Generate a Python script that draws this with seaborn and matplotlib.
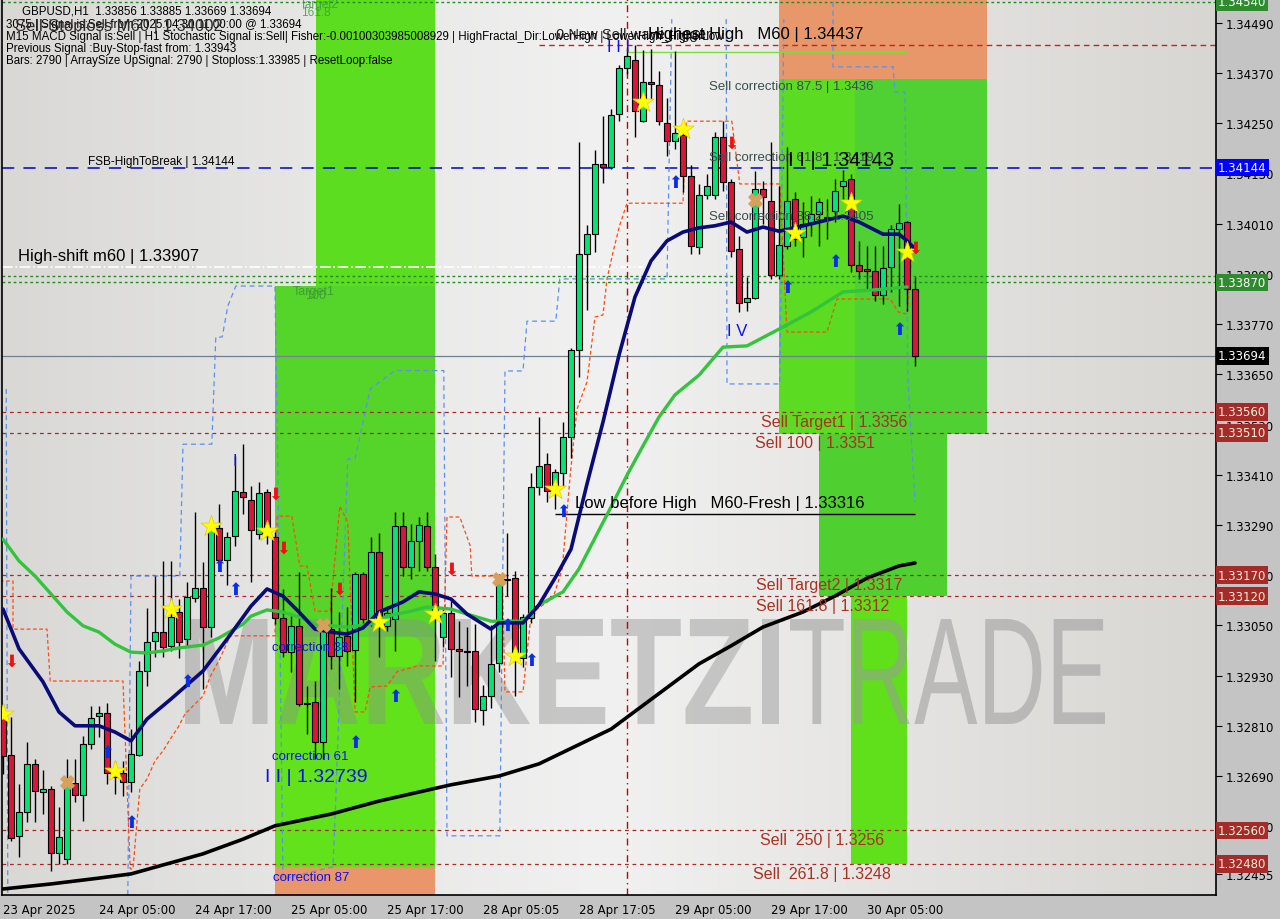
import numpy as np
import matplotlib
matplotlib.use("Agg")
import matplotlib.pyplot as plt
import matplotlib.transforms as mtransforms
from matplotlib.colors import LinearSegmentedColormap
from matplotlib.patches import Rectangle, PathPatch
from matplotlib.textpath import TextPath
from matplotlib.font_manager import FontProperties
import seaborn as sns

# ---------------- data (GBPUSD H1) ----------------
opens = [1.32845, 1.32740, 1.32547, 1.32604, 1.32719, 1.32652, 1.32659, 1.32506, 1.32492, 1.32673,
         1.32645, 1.32766, 1.32833, 1.32841, 1.32707, 1.32697, 1.32676, 1.32740, 1.32941, 1.33013,
         1.33034, 1.33001, 1.33082, 1.33017, 1.33115, 1.33139, 1.33046, 1.33283, 1.33206, 1.33264,
         1.33369, 1.33350, 1.33268, 1.33369, 1.33261, 1.33068, 1.32986, 1.33049, 1.32864, 1.32867,
         1.32771, 1.33041, 1.32977, 1.33025, 1.32991, 1.33173, 1.33060, 1.33225, 1.33049, 1.33065,
         1.33288, 1.33190, 1.33252, 1.33288, 1.33190, 1.33022, 1.33080, 1.32994, 1.32989, 1.32989,
         1.32848, 1.32881, 1.32960, 1.33161, 1.33163, 1.32972, 1.33068, 1.33381, 1.33436, 1.33376,
         1.33414, 1.33500, 1.33708, 1.33938, 1.33985, 1.34153, 1.34146, 1.34272, 1.34382, 1.34401,
         1.34255, 1.34349, 1.34342, 1.34251, 1.34208, 1.34222, 1.34124, 1.33954, 1.34079, 1.34079,
         1.34217, 1.34110, 1.33950, 1.33823, 1.33832, 1.34093, 1.34064, 1.33887, 1.33957, 1.34069,
         1.33978, 1.34012, 1.34033, 1.34026, 1.34040, 1.34100, 1.34117, 1.33911, 1.33902, 1.33897,
         1.33840, 1.33907, 1.33997, 1.34014, 1.33854]
highs = [1.32862, 1.32831, 1.32671, 1.32771, 1.32731, 1.32704, 1.32666, 1.32616, 1.32731, 1.32731,
         1.32786, 1.32857, 1.32857, 1.32864, 1.32726, 1.32726, 1.32802, 1.32965, 1.33092, 1.33168,
         1.33204, 1.33204, 1.33113, 1.33154, 1.33321, 1.33201, 1.33304, 1.33340, 1.33273, 1.33455,
         1.33483, 1.33383, 1.33393, 1.33376, 1.33273, 1.33137, 1.33072, 1.33178, 1.32905, 1.32917,
         1.33060, 1.33139, 1.33082, 1.33094, 1.33178, 1.33178, 1.33261, 1.33271, 1.33096, 1.33321,
         1.33321, 1.33292, 1.33309, 1.33321, 1.33221, 1.33089, 1.33108, 1.33060, 1.33046, 1.33053,
         1.32908, 1.33051, 1.33173, 1.33271, 1.33180, 1.33077, 1.33414, 1.33548, 1.33462, 1.33424,
         1.33536, 1.33713, 1.34205, 1.34007, 1.34186, 1.34267, 1.34284, 1.34389, 1.34432, 1.34437,
         1.34425, 1.34428, 1.34375, 1.34310, 1.34423, 1.34236, 1.34150, 1.34105, 1.34129, 1.34229,
         1.34255, 1.34117, 1.33981, 1.33883, 1.34136, 1.34112, 1.34205, 1.34100, 1.34193, 1.34086,
         1.34062, 1.34076, 1.34071, 1.34069, 1.34117, 1.34138, 1.34129, 1.33969, 1.33957, 1.33957,
         1.33957, 1.34007, 1.34057, 1.34016, 1.33883]
lows = [1.32695, 1.32535, 1.32496, 1.32580, 1.32580, 1.32599, 1.32463, 1.32480, 1.32480, 1.32628,
        1.32582, 1.32755, 1.32783, 1.32671, 1.32647, 1.32642, 1.32652, 1.32738, 1.32905, 1.32974,
        1.32974, 1.32989, 1.32972, 1.33001, 1.33106, 1.32898, 1.33022, 1.33192, 1.33147, 1.33240,
        1.33316, 1.33154, 1.33256, 1.33244, 1.33053, 1.32974, 1.32939, 1.32857, 1.32790, 1.32731,
        1.32731, 1.32946, 1.32898, 1.32953, 1.32867, 1.33053, 1.33049, 1.32974, 1.33036, 1.32989,
        1.33168, 1.33161, 1.33180, 1.33180, 1.32965, 1.32998, 1.32927, 1.32879, 1.32905, 1.32819,
        1.32812, 1.32853, 1.32939, 1.33120, 1.32881, 1.32951, 1.33056, 1.33362, 1.33345, 1.33328,
        1.33381, 1.33450, 1.33644, 1.33804, 1.33942, 1.34107, 1.34141, 1.34255, 1.34368, 1.34217,
        1.34253, 1.34306, 1.34246, 1.34172, 1.34189, 1.34086, 1.33938, 1.33938, 1.34069, 1.34069,
        1.34088, 1.33930, 1.33799, 1.33801, 1.33830, 1.34009, 1.33878, 1.33878, 1.33950, 1.33957,
        1.33930, 1.33981, 1.33957, 1.33973, 1.34014, 1.34069, 1.33895, 1.33878, 1.33854, 1.33825,
        1.33818, 1.33847, 1.33813, 1.33801, 1.33669]
closes = [1.32738, 1.32542, 1.32604, 1.32719, 1.32654, 1.32659, 1.32506, 1.32544, 1.32676, 1.32645,
          1.32766, 1.32829, 1.32841, 1.32697, 1.32688, 1.32676, 1.32743, 1.32941, 1.33010, 1.33034,
          1.32998, 1.33070, 1.33010, 1.33118, 1.33139, 1.33046, 1.33280, 1.33206, 1.33261, 1.33371,
          1.33357, 1.33278, 1.33366, 1.33264, 1.33068, 1.32986, 1.33049, 1.32862, 1.32862, 1.32771,
          1.33041, 1.32977, 1.33022, 1.32989, 1.33173, 1.33065, 1.33225, 1.33049, 1.33080, 1.33288,
          1.33190, 1.33252, 1.33290, 1.33190, 1.33082, 1.33080, 1.32994, 1.32989, 1.32986, 1.32850,
          1.32881, 1.32958, 1.33161, 1.33158, 1.32972, 1.33070, 1.33381, 1.33431, 1.33371, 1.33417,
          1.33500, 1.33708, 1.33938, 1.33985, 1.34153, 1.34146, 1.34270, 1.34382, 1.34411, 1.34279,
          1.34349, 1.34344, 1.34255, 1.34208, 1.34227, 1.34124, 1.33957, 1.34079, 1.34100, 1.34217,
          1.34110, 1.33945, 1.33820, 1.33832, 1.34093, 1.34074, 1.33887, 1.33959, 1.34064, 1.33973,
          1.34009, 1.34033, 1.34062, 1.34024, 1.34088, 1.34112, 1.33911, 1.33897, 1.33897, 1.33840,
          1.33904, 1.33997, 1.34012, 1.33854, 1.33694]

# moving averages (bar index, price)
fast_ma_bars = [0, 2, 5, 7, 9, 12, 14, 16, 18, 21, 25, 28, 31, 33, 35, 37, 39, 41, 43, 45, 47, 50, 52,
                54, 56, 58, 61, 62, 65, 67, 69, 71, 73, 75, 77, 79, 81, 83, 85, 87, 89, 91, 93, 95, 97,
                100, 102, 105, 107, 110, 112, 113, 114]
fast_ma = [1.33089, 1.32994, 1.32915, 1.32843, 1.32810, 1.32810, 1.32795, 1.32774, 1.32826, 1.32874,
           1.32941, 1.33017, 1.33096, 1.33137, 1.33120, 1.33082, 1.33041, 1.33034, 1.33029, 1.33044,
           1.33082, 1.33106, 1.33130, 1.33125, 1.33113, 1.33077, 1.33041, 1.33056, 1.33056, 1.33099,
           1.33163, 1.33232, 1.33388, 1.33536, 1.33696, 1.33835, 1.33921, 1.33969, 1.33990, 1.34000,
           1.34005, 1.34014, 1.33990, 1.34002, 1.33992, 1.34005, 1.34014, 1.34028, 1.34014, 1.33985,
           1.33985, 1.33969, 1.33950]
slow_ma_bars = [0, 2, 4, 6, 8, 10, 12, 14, 16, 18, 20, 22, 25, 27, 30, 31, 33, 35, 37, 39, 41, 43, 46,
                48, 51, 53, 56, 58, 61, 65, 67, 70, 72, 74, 76, 78, 80, 82, 84, 87, 90, 93, 97, 101,
                105, 109, 113]
slow_ma = [1.33256, 1.33204, 1.33168, 1.33125, 1.33082, 1.33049, 1.33034, 1.33005, 1.32986, 1.32984,
           1.32989, 1.32996, 1.33003, 1.33020, 1.33053, 1.33072, 1.33087, 1.33082, 1.33070, 1.33053,
           1.33049, 1.33046, 1.33053, 1.33072, 1.33084, 1.33094, 1.33089, 1.33077, 1.33060, 1.33060,
           1.33099, 1.33130, 1.33185, 1.33259, 1.33333, 1.33409, 1.33479, 1.33548, 1.33601, 1.33648,
           1.33715, 1.33718, 1.33758, 1.33799, 1.33847, 1.33852, 1.33859]
trend_ma_bars = [0, 6, 12, 16, 25, 30, 34, 41, 47, 56, 62, 67, 76, 87, 91, 95, 100, 104, 108, 112, 114]
trend_ma = [1.32420, 1.32432, 1.32446, 1.32456, 1.32504, 1.32539, 1.32571, 1.32599, 1.32630, 1.32669,
            1.32690, 1.32719, 1.32802, 1.32958, 1.33001, 1.33046, 1.33082, 1.33120, 1.33163, 1.33192,
            1.33199]

# stepped trailing lines (bar position, price)
trail_bars = [-0.4, 1.25, 1.25, 5.5, 5.9, 15, 15.9, 16.25, 17.1, 18, 19, 20, 20.9, 21.9, 22.75, 24,
              25, 25.9, 27.1, 28.4, 34, 34.25, 36.1, 37.1, 38, 39, 40.9, 42.1, 43.1, 44, 45.25, 45.9,
              48, 49.25, 51.75, 55, 55.5, 57.1, 58.4, 58.6, 62.4, 62.75, 65, 65.9, 66.75, 68.75, 69.9,
              70.9, 71.75, 73, 74, 75, 75.5, 76.25, 77.1, 78, 85, 85.4, 91.1, 92.1, 97.1, 98, 103,
              104.25, 110.9, 111.9, 113, 113.6]
trail_prices = [1.33156, 1.33156, 1.33041, 1.33041, 1.32917, 1.32917, 1.32468, 1.32468, 1.32659,
                1.32683, 1.32726, 1.32750, 1.32778, 1.32807, 1.32838, 1.32862, 1.32881, 1.32927,
                1.32970, 1.33025, 1.33025, 1.33311, 1.33311, 1.33192, 1.33192, 1.33084, 1.33084,
                1.33335, 1.33297, 1.32843, 1.32843, 1.32903, 1.32905, 1.32939, 1.32953, 1.32953,
                1.33309, 1.33309, 1.33240, 1.33168, 1.33168, 1.32891, 1.32891, 1.33056, 1.33089,
                1.33115, 1.33185, 1.33409, 1.33567, 1.33632, 1.33787, 1.33792, 1.33878, 1.33942,
                1.34007, 1.34059, 1.34059, 1.34255, 1.34255, 1.34105, 1.34105, 1.33751, 1.33751,
                1.33830, 1.33830, 1.33799, 1.33794, 1.33926]
band_a_bars = [0.4, 0.6]
band_a_prices = [1.33615, 1.32406]
band_b_bars = [15.6, 16, 22.1, 22.5, 26.1, 26.6, 27.4, 28.1, 29.1, 34, 34.4, 35, 41.25, 41.6, 43.1,
               44, 45.9, 49, 55.1, 55.5, 62.1, 62.75, 65, 65.5, 69.1, 69.6, 83, 83.6]
band_b_prices = [1.32406, 1.33168, 1.33168, 1.33483, 1.33483, 1.33739, 1.33739, 1.33813, 1.33861,
                 1.33861, 1.33352, 1.32444, 1.32473, 1.32636, 1.33448, 1.33448, 1.33615, 1.33659,
                 1.33659, 1.32547, 1.32547, 1.33658, 1.33658, 1.33777, 1.33777, 1.33878, 1.33878,
                 1.34499]
band_c_bars = [90.4, 90.5, 97.1, 97.6]
band_c_prices = [1.34499, 1.33627, 1.33627, 1.34499]
band_d_bars = [103.75, 103.75, 111.25, 111.5, 112.75, 113.1, 114]
band_d_prices = [1.34540, 1.34385, 1.34385, 1.34325, 1.34325, 1.33639, 1.33345]

# signal markers
star_bars = [0, 14, 21, 26, 33, 47, 54, 64, 69, 80, 85, 99, 106, 113]
star_prices = [1.32838, 1.32702, 1.33089, 1.33287, 1.33276, 1.33058, 1.33077, 1.32977, 1.33376,
               1.34301, 1.34236, 1.33988, 1.34059, 1.33942]
up_bars = [13, 16, 23, 27, 29, 44, 49, 63, 66, 70, 84, 98, 104, 112]
up_prices = [1.32747, 1.32580, 1.32917, 1.33192, 1.33137, 1.32771, 1.32881, 1.33051, 1.32967,
             1.33323, 1.34110, 1.33859, 1.33921, 1.33758]
down_bars = [1, 34, 35, 42, 56, 91, 114]
down_prices = [1.32965, 1.33364, 1.33237, 1.33137, 1.33185, 1.34205, 1.33954]
cross_bars = [8, 40, 62, 94]
cross_prices = [1.32676, 1.33051, 1.33161, 1.34067]

# zones: bar start, bar end, low, high, colour
zone_x0 = [39.1, 34, 34, 34, 97, 97, 106.5, 102, 106]
zone_x1 = [54, 54, 54, 54, 123, 123, 123, 118, 113]
zone_lo = [1.33861, 1.33022, 1.32472, 1.32380, 1.34356, 1.33507, 1.33507, 1.33120, 1.32480]
zone_hi = [1.34600, 1.33861, 1.33022, 1.32472, 1.34600, 1.34356, 1.34356, 1.33507, 1.33120]
zone_col = ['#5ddd1f', '#55d52a', '#62e21a', '#e8966a', '#e8976a', '#5bdb21', '#4fd033', '#4fd030',
            '#5fe01b']

sell_levels = [1.33560, 1.33510, 1.33170, 1.33120, 1.32560, 1.32480]
sell_labels = ["Sell Target1 | 1.3356", "Sell 100 | 1.3351", "Sell Target2 | 1.3317",
               "Sell 161.8 | 1.3312", "Sell  250 | 1.3256", "Sell  261.8 | 1.3248"]
sell_label_bars = [94.8, 94.0, 94.1, 94.1, 94.6, 93.8]

tag_prices = [1.34540, 1.34144, 1.33870, 1.33694, 1.33560, 1.33510, 1.33170, 1.33120, 1.32560, 1.32480]
tag_colors = ['#2e8b2e', '#0000ff', '#2e8b2e', '#000000', '#a52a2a', '#a52a2a', '#a52a2a',
              '#a52a2a', '#a52a2a', '#a52a2a']

x_ticks = [0, 12, 24, 36, 48, 60, 72, 84, 96, 108]
x_labels = ["23 Apr 2025", "24 Apr 05:00", "24 Apr 17:00", "25 Apr 05:00", "25 Apr 17:00",
            "28 Apr 05:05", "28 Apr 17:05", "29 Apr 05:00", "29 Apr 17:00", "30 Apr 05:00"]
y_ticks = [1.34490, 1.34370, 1.34250, 1.34130, 1.34010, 1.33890, 1.33770, 1.33650, 1.33530,
           1.33410, 1.33290, 1.33170, 1.33050, 1.32930, 1.32810, 1.32690, 1.32570, 1.32455]

# ---------------- figure ----------------
sns.set_style("white")
plt.rcParams['font.family'] = ['Liberation Sans', 'DejaVu Sans']

W, H = 1280, 920
fig = plt.figure(figsize=(12.8, 9.2), dpi=100, facecolor='#c4c4c4')
ax = fig.add_axes([2 / W, 24 / H, 1214 / W, 896 / H])
XMIN, XMAX = -0.125, 151.625
YMIN, YMAX = 1.324056, 1.34547
ax.set_xlim(XMIN, XMAX)
ax.set_ylim(YMIN, YMAX)


def fx(x):
    return x / W


def fy(y):
    return 1 - y / H


# background gradient
bg = LinearSegmentedColormap.from_list('bg', ['#d9d8d5', '#e6e6e5', '#f1f1f1', '#e4e3e1', '#d8d6d2'])
ax.imshow(np.linspace(0, 1, 256)[None, :], extent=[XMIN, XMAX, YMIN, YMAX], aspect='auto',
          cmap=bg, zorder=0)

# zones
for x0, x1, lo, hi, c in zip(zone_x0, zone_x1, zone_lo, zone_hi, zone_col):
    ax.add_patch(Rectangle((x0, lo), x1 - x0, hi - lo, facecolor=c, edgecolor='none', zorder=1))

# watermark (MARKETZI heavy, TRADE light)
for word, weight, x0, x1, col, alpha in [("MARKETZI", 'bold', 185, 779, '#8e8e8e', 0.42),
                                         ("TRADE", 'normal', 790, 1105, '#9a9a9a', 0.55)]:
    tp = TextPath((0, 0), word, size=100, prop=FontProperties(family='Liberation Sans', weight=weight))
    bb = tp.get_extents()
    tr = mtransforms.Affine2D().translate(-bb.x0, -bb.y0).scale((x1 - x0) / bb.width, 105 / bb.height)\
        .translate(x0, H - 725)
    ax.add_patch(PathPatch(tp, transform=tr, facecolor=col, edgecolor='none', alpha=alpha,
                           zorder=1.5, clip_on=False))

# horizontal levels
for lv in sell_levels:
    ax.axhline(lv, color='#a52a2a', lw=0.9, ls=(0, (3, 3)), zorder=2)
ax.axhline(1.34144, color='#0000cc', lw=1.1, ls=(0, (8, 6)), zorder=2)
ax.axhline(1.33885, color='#228b22', lw=1.0, ls=(0, (2, 2)), zorder=2)
ax.axhline(1.33870, color='#228b22', lw=1.0, ls=(0, (2, 2)), zorder=2)
ax.axhline(1.34540, color='#228b22', lw=1.0, ls=(0, (2, 2)), zorder=2)
ax.axhline(1.33694, color='#708090', lw=0.9, zorder=2)
ax.hlines(1.34437, 67, XMAX, color='#cc2020', lw=1.0, ls=(0, (4, 3)), zorder=2)
ax.hlines(1.34420, 78, 113, color='#7ddc3c', lw=1.0, zorder=2)
ax.hlines(1.33907, XMIN, 80, color='white', lw=1.2, ls='-.', zorder=2)
ax.hlines(1.33316, 69, 114, color='black', lw=1.0, zorder=2)
ax.axvline(78, color='#cc0000', lw=1.0, ls=(0, (5, 3, 1, 3)), zorder=2)

# stepped trailing lines
for bx, by in [(band_a_bars, band_a_prices), (band_b_bars, band_b_prices),
               (band_c_bars, band_c_prices), (band_d_bars, band_d_prices)]:
    ax.plot(bx, by, color='#5b8ff0', lw=0.9, ls=(0, (4, 3)), zorder=2.5)
ax.plot(trail_bars, trail_prices, color='#ff4a10', lw=0.9, ls=(0, (3, 2)), zorder=2.5)

# candles
bars = np.arange(len(opens))
o, hh, ll, c = map(np.array, (opens, highs, lows, closes))
bull = c >= o
ax.vlines(bars, ll, hh, color='black', lw=1.0, zorder=3)
body_h = np.maximum(np.abs(c - o), 0.000012)
ax.bar(bars, body_h, bottom=np.minimum(o, c), width=0.75,
       color=np.where(bull, '#00e676', '#dc143c'), edgecolor='black', linewidth=0.8, zorder=3.2)

# moving averages
sns.lineplot(x=trend_ma_bars, y=trend_ma, color='black', lw=2.6, ax=ax, zorder=4)
sns.lineplot(x=slow_ma_bars, y=slow_ma, color='#33c33d', lw=2.4, ax=ax, zorder=4)
sns.lineplot(x=fast_ma_bars, y=fast_ma, color='#0a0a78', lw=2.6, ax=ax, zorder=4)

# markers
ax.scatter(star_bars, star_prices, marker='*', s=260, color='#ffff00', edgecolor='#e0d000',
           linewidth=0.5, zorder=5)
ax.scatter(cross_bars, cross_prices, marker='X', s=90, color='#d9a05b', zorder=5)
for b, p in zip(up_bars, up_prices):
    ax.text(b, p, "\u2b06", color='#0a2ee8', fontsize=12, ha='center',
            va='center', family='DejaVu Sans', zorder=5)
for b, p in zip(down_bars, down_prices):
    ax.text(b, p, "\u2b07", color='#f01010', fontsize=12, ha='center',
            va='center', family='DejaVu Sans', zorder=5)

# sell level labels
below = mtransforms.offset_copy(ax.transData, fig=fig, y=-2, units='dots')
for b, lv, t in zip(sell_label_bars, sell_levels, sell_labels):
    ax.text(b, lv, t, transform=below, color='#a83222', fontsize=11.5, ha='left', va='top', zorder=6)

# axes styling
ax.yaxis.tick_right()
ax.set_yticks(y_ticks)
ax.set_yticklabels([f"{v:.5f}" for v in y_ticks], fontsize=8.5, family='DejaVu Sans')
ax.set_xticks(x_ticks)
ax.set_xticklabels(x_labels, fontsize=8.5, ha='left', family='DejaVu Sans')
ax.tick_params(axis='y', direction='out', length=4, width=0.8, pad=3, colors='black')
ax.tick_params(axis='x', direction='out', length=4, width=0.8, pad=2, colors='black')
ax.set_xlabel("")
ax.set_ylabel("")
for sp in ['left', 'right', 'bottom']:
    ax.spines[sp].set_color('black')
    ax.spines[sp].set_linewidth(1.2)
ax.spines['top'].set_visible(False)

# price tags on the right scale
tag_tr = mtransforms.blended_transform_factory(ax.transAxes, ax.transData)
for p, col in zip(tag_prices, tag_colors):
    ax.text(1.0015, p, f"{p:.5f}", transform=tag_tr, fontsize=8.5, family='DejaVu Sans',
            color='#f2f2d8' if col == '#a52a2a' else 'white', ha='left', va='center',
            bbox=dict(facecolor=col, edgecolor='none', pad=1.6), clip_on=False, zorder=10)

# ---------------- chart annotations ----------------
info = [("GBPUSD,H1  1.33856 1.33885 1.33669 1.33694", 22, 12),
        ("3075 | Signal is:Sell from:2025.04.30 11:00:00 @ 1.33694", 6, 25),
        ("M15 MACD Signal is:Sell | H1 Stochastic Signal is:Sell| Fisher:-0.00100303985008929 | "
         "HighFractal_Dir:LowerHigh | LowerHigh_HigherLow", 6, 37),
        ("Previous Signal :Buy-Stop-fast from: 1.33943", 6, 49),
        ("Bars: 2790 | ArraySize UpSignal: 2790 | Stoploss:1.33985 | ResetLoop:false", 6, 61)]
for t, x, y in info:
    fig.text(fx(x), fy(y), t, fontsize=8.3, color='black', va='center', ha='left', zorder=20)
fig.text(fx(15), fy(27), "Sell-Stoploss M60 | 1.34002", fontsize=12, color='#2a2a2a',
         va='center', zorder=20)

fig.text(fx(300), fy(5), "Target2", fontsize=8.5, color='#3a9a3a', va='center', alpha=0.8)
fig.text(fx(301), fy(13), "161.8", fontsize=8.5, color='#3a9a3a', va='center', alpha=0.8)
fig.text(fx(293), fy(292), "Target1", fontsize=9, color='#3d8f3d', va='center', alpha=0.8)
fig.text(fx(305), fy(296), "100", fontsize=9, color='#3d8f3d', va='center', alpha=0.8)

fig.text(fx(88), fy(162), "FSB-HighToBreak | 1.34144", fontsize=8.5, color='black', va='center')
fig.text(fx(18), fy(257), "High-shift m60 | 1.33907", fontsize=12, color='black', va='center')

fig.text(fx(272), fy(648), "correction 38", fontsize=9.5, color='#1010ee', va='center')
fig.text(fx(272), fy(757), "correction 61", fontsize=9.5, color='#1010ee', va='center')
fig.text(fx(265), fy(778), "I I | 1.32739", fontsize=14, color='#1010ee', va='center')
fig.text(fx(273), fy(878), "correction 87", fontsize=9.5, color='#1010ee', va='center')
fig.text(fx(233), fy(462), "I", fontsize=12, color='#1010ee', va='center')
fig.text(fx(607), fy(48), "I I I", fontsize=12, color='#1010ee', va='center')
fig.text(fx(727), fy(332), "I V", fontsize=12, color='#1010ee', va='center')

fig.text(fx(575), fy(504), "Low before High   M60-Fresh | 1.33316", fontsize=12, color='black',
         va='center')
fig.text(fx(556), fy(35), "0 New Sell wave trigger", fontsize=10.5, color='#222222', va='center')
fig.text(fx(648), fy(35), "Highest High   M60 | 1.34437", fontsize=12, color='black', va='center')

for t, y in [("Sell correction 87.5 | 1.3436", 87), ("Sell correction 61.8 | 1.3419", 158),
             ("Sell correction 38.2 | 1.3405", 217)]:
    fig.text(fx(709), fy(y), t, fontsize=9.5, color='#3a4d4d', va='center')
fig.text(fx(788), fy(160), "I I | 1.34143", fontsize=14.5, color='black', va='center')

fig.savefig("out.png", dpi=100, facecolor=fig.get_facecolor())
